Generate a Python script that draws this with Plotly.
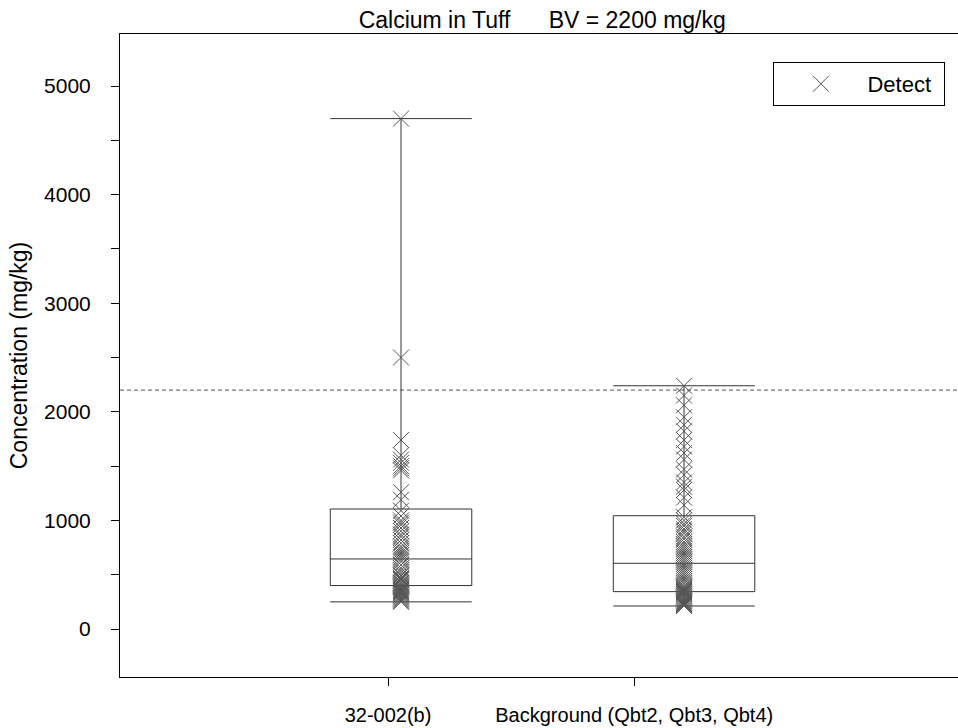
import plotly.graph_objects as go

# Groups and box statistics (mg/kg)
groups = ["32-002(b)", "Background (Qbt2, Qbt3, Qbt4)"]
group_pos = [1, 2]
label_pos = [0.954, 1.824]
lower_fence = [250, 212]
q1 = [400, 344]
median = [645, 605]
q3 = [1105, 1043]
upper_fence = [4700, 2240]
bv = 2200

# Detected concentrations for each group (mg/kg)
site_vals = [4700, 2500, 1740, 1600, 1560, 1530, 1500, 1480, 1460, 1260, 1190,
             1090, 1040, 1000, 980, 960, 930, 900, 870, 850, 820, 790, 760, 740,
             720, 700, 680, 660, 640, 620, 590, 560, 540, 520, 500, 490, 470, 460,
             450, 430, 420, 410, 400, 390, 380, 370, 360, 350, 340, 330, 320, 310,
             300, 290, 280, 270, 260, 250]
bg_vals = [2240, 2150, 2060, 1950, 1880, 1820, 1740, 1680, 1620, 1560, 1470, 1420,
           1350, 1310, 1280, 1210, 1140, 1030, 1000, 970, 950, 920, 900, 880, 850,
           830, 800, 780, 760, 740, 720, 700, 680, 660, 640, 620, 600, 580, 560,
           540, 520, 500, 480, 460, 440, 420, 400, 390, 380, 370, 360, 350, 340,
           330, 320, 310, 300, 290, 280, 270, 260, 250, 240, 230, 220, 212]

FONT = "Arial, Liberation Sans, sans-serif"
GAP = "&nbsp;" * 6

fig = go.Figure()

fig.add_trace(go.Box(
    x=group_pos, q1=q1, median=median, q3=q3,
    lowerfence=lower_fence, upperfence=upper_fence,
    width=0.5, whiskerwidth=1, boxpoints=False,
    fillcolor="rgba(0,0,0,0)", line=dict(color="#333", width=1),
    showlegend=False, hoverinfo="skip",
))

fig.add_trace(go.Scatter(
    x=[group_pos[0]] * len(site_vals) + [group_pos[1]] * len(bg_vals),
    y=site_vals + bg_vals,
    mode="markers", name="Detect",
    marker=dict(symbol="x-thin-open", size=16, color="#555",
                line=dict(width=1, color="#555")),
))

fig.add_hline(y=bv, line=dict(color="#555", width=1, dash="4px,3px"))

fig.update_layout(
    width=958, height=728,
    margin=dict(l=120, r=0, t=34, b=51),
    paper_bgcolor="white", plot_bgcolor="white",
    font=dict(family=FONT, size=21, color="black"),
    title=dict(text=f"Calcium in Tuff{GAP}BV = 2200 mg/kg", x=0.566, xanchor="center",
               y=0.973, yanchor="middle", font=dict(size=23)),
    showlegend=True,
    legend=dict(orientation="h", x=0.985, xanchor="right", y=0.9565, yanchor="top",
                bgcolor="white", bordercolor="black", borderwidth=1,
                entrywidth=72, itemwidth=83, font=dict(size=22)),
    xaxis=dict(range=[0.007, 2.968], tickvals=label_pos, ticktext=groups,
               tickfont=dict(size=20), ticklabelstandoff=12,
               showgrid=False, zeroline=False, showline=True, linecolor="black",
               linewidth=1, mirror=True, ticks="outside", ticklen=8,
               tickcolor="black"),
    yaxis=dict(range=[-442, 5479], tickvals=[0, 1000, 2000, 3000, 4000, 5000],
               ticklabelstandoff=16,
               showgrid=False, zeroline=False, showline=True, linecolor="black",
               linewidth=1, ticks="outside", ticklen=8, tickcolor="black",
               minor=dict(tickvals=[500, 1500, 2500, 3500, 4500], ticks="outside",
                          ticklen=8, tickcolor="black"),
               title=dict(text="Concentration (mg/kg)", font=dict(size=23), standoff=10)),
)

fig.write_html("out.html")
